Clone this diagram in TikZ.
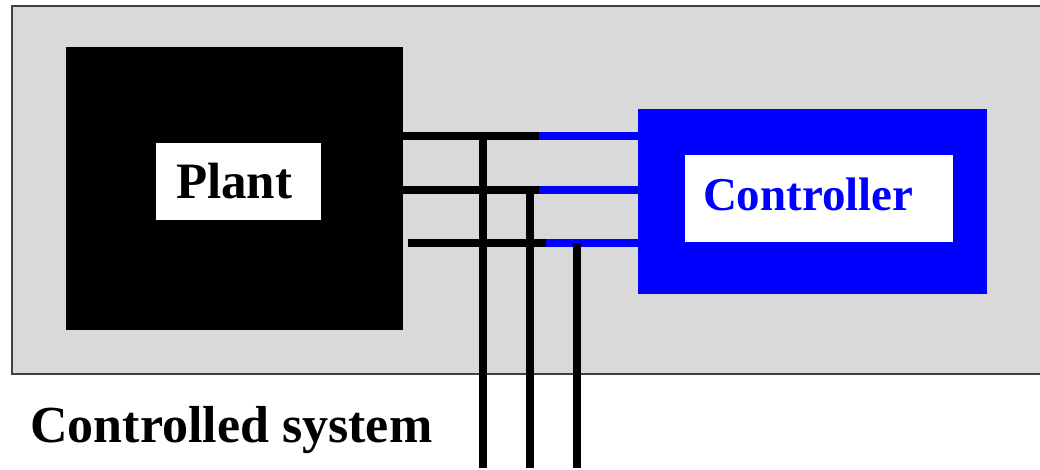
\documentclass[tikz,border=0pt]{standalone}
\usepackage{fontspec}
\setmainfont{Liberation Serif}
\usepackage{xcolor}
\usetikzlibrary{positioning}

\definecolor{panel}{HTML}{D9D9D9}

\begin{document}
\begin{tikzpicture}[
    x=0.5pt, y=-0.5pt,
    block/.style={inner sep=0pt, outer sep=0pt, anchor=north west},
    tag/.style={block, fill=white, inner ysep=0pt, align=left, font=\bfseries},
    wire/.style={line width=4pt},
  ]
  \useasboundingbox (0,0) rectangle (1040,470);
  \filldraw[fill=panel, draw=black!75, line width=0.75pt] (12,6) rectangle (1048,374);

  \node[block, fill=black, minimum width=168.5pt, minimum height=141.5pt] (plant) at (66,47) {};
  \node[tag, inner xsep=10pt, text width=62.5pt, minimum height=38.5pt,
        font=\bfseries\fontsize{25.5pt}{30pt}\selectfont] (plantname) at (156,143) {Plant};

  \node[block, fill=blue, minimum width=174.5pt, minimum height=92.5pt] (ctrl) at (638,109) {};
  \node[tag, inner xsep=9pt, text width=116pt, minimum height=43.3pt, text=blue, text depth=4pt,
        font=\bfseries\fontsize{23.5pt}{28pt}\selectfont] (ctrlname) at (685,155) {Controller};

  \node[anchor=base west, inner sep=0pt, font=\bfseries\fontsize{26pt}{31pt}\selectfont]
    (sysname) at (30,443) {Controlled system};

  % split points between plant side and controller side
  \coordinate (s1) at (539,136.5);
  \coordinate (s2) at (539,190);
  \coordinate (s3) at (545.7,243.5);
  \coordinate (o1) at (483,468);
  \coordinate (o2) at (530,468);
  \coordinate (o3) at (577,468);

  \draw[wire, blue] (s1) -- (s1 -| ctrl.west);
  \draw[wire, blue] (s2) -- (s2 -| ctrl.west);
  \draw[wire, blue] (s3) -- (s3 -| ctrl.west);
  \draw[wire] (s1 -| plant.east) -- (s1);
  \draw[wire] (s2 -| plant.east) -- (s2);
  \draw[wire] ([xshift=2.5pt]s3 -| plant.east) -- (s3);

  \draw[wire] (o1 |- s1) -- (o1);
  \draw[wire] (o2 |- s2) -- (o2);
  \draw[wire] (o3 |- s3) -- (o3);
\end{tikzpicture}
\end{document}
